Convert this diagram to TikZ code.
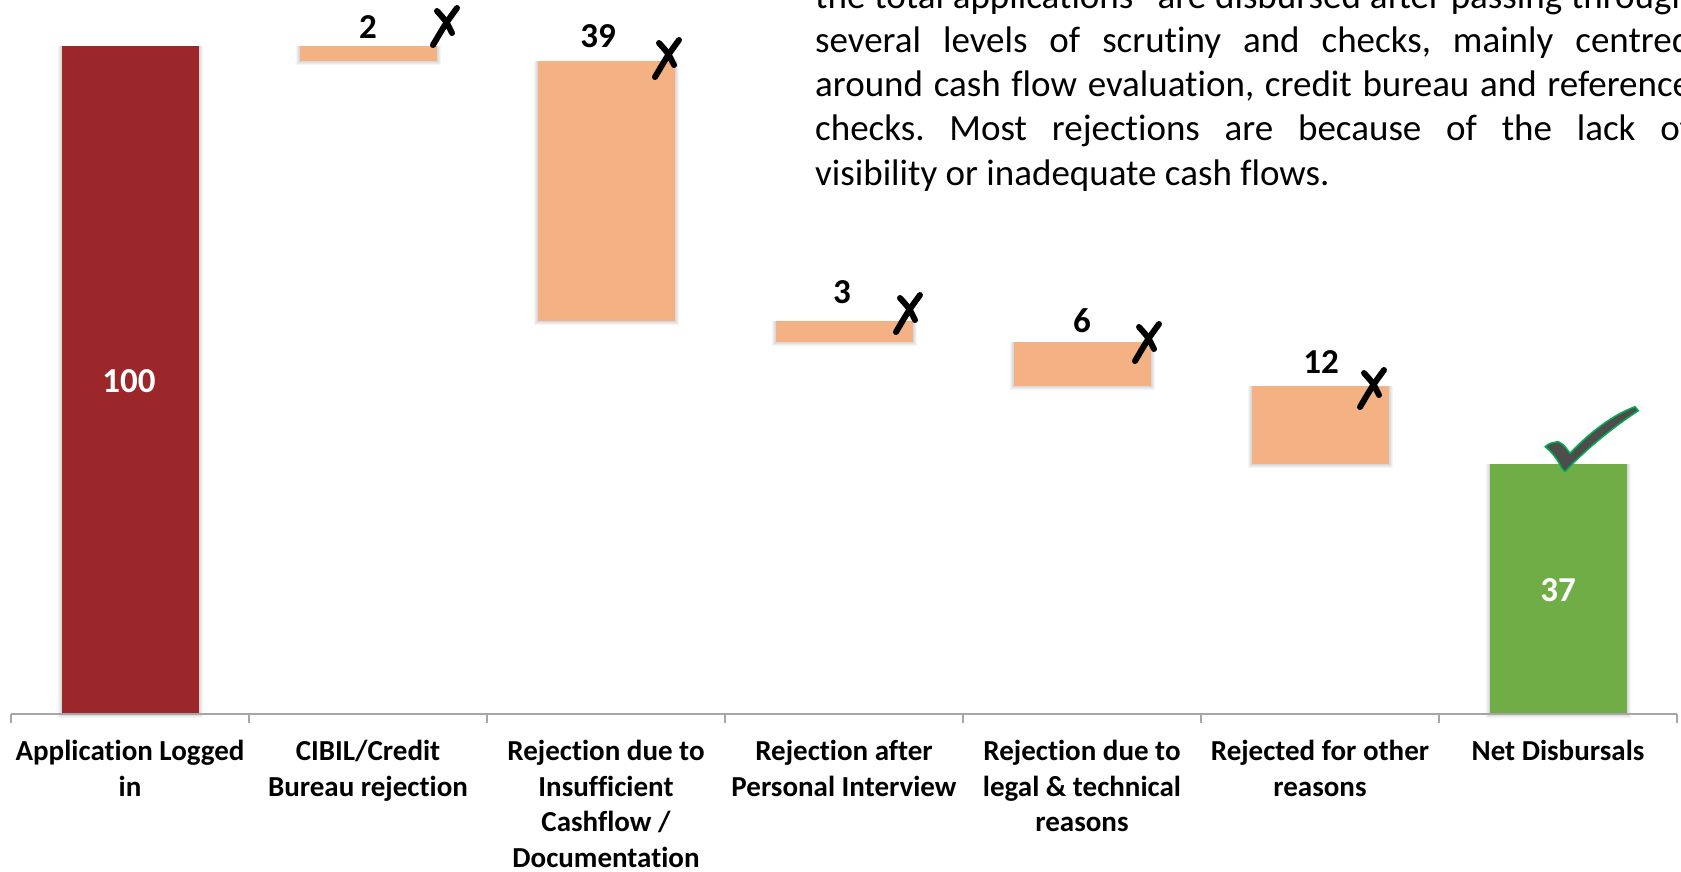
\documentclass[tikz,border=0pt]{standalone}
\usepackage{fontspec}
\setmainfont{Carlito}[RawFeature=-liga]
\definecolor{barred}{HTML}{9B272B}
\definecolor{barorange}{HTML}{F4B183}
\definecolor{bargreen}{HTML}{70AD47}
\definecolor{axisgray}{HTML}{A6A6A6}
\definecolor{checkgray}{HTML}{4D4D4D}
\definecolor{checkgreen}{HTML}{00B050}
\frenchspacing
\tikzset{
  xstroke/.style={line width=6pt, line cap=round, draw=black},
  xcross/.pic={
    \draw[xstroke] (12,-18) .. controls (1,-3) .. (-12,19);
    \draw[xstroke] (-8,-15) .. controls (1,-5) .. (7,7);
  },
  catlabel/.style={font=\fontsize{29}{35.5}\selectfont\bfseries, align=center, anchor=north, inner sep=0pt},
  vallabel/.style={font=\fontsize{35}{40}\selectfont\bfseries, inner sep=0pt},
  paraline/.style={font=\fontsize{37}{44}\selectfont, anchor=base west, inner sep=0pt},
}
\newcommand\softshadow[4]{%
  \foreach \d in {1,2,3,4}{\fill[black,opacity=0.04] (#1-\d,#2) rectangle (#3+\d,#4+\d);}%
}
\begin{document}
\begin{tikzpicture}[x=1pt,y=-1pt]
\clip (0,0) rectangle (1681,872);
\fill[white] (0,0) rectangle (1681,872);

% shadows
\softshadow{61.5}{46}{198.5}{714}
\softshadow{299.5}{46}{436.5}{61}
\softshadow{537.5}{61}{674.5}{321}
\softshadow{775.5}{321}{912.5}{342}
\softshadow{1013.5}{342}{1150.5}{386}
\softshadow{1251.5}{386}{1388.5}{464}
\softshadow{1489.5}{464}{1626.5}{714}

% bars
\fill[barred] (61.5,46) rectangle (198.5,714);
\fill[barorange] (299.5,46) rectangle (436.5,61);
\fill[barorange] (537.5,61) rectangle (674.5,321);
\fill[barorange] (775.5,321) rectangle (912.5,342);
\fill[barorange] (1013.5,342) rectangle (1150.5,386);
\fill[barorange] (1251.5,386) rectangle (1388.5,464);
\fill[bargreen] (1489.5,464) rectangle (1626.5,714);

% axis
\draw[axisgray, line width=1.2pt] (11,714) -- (1677,714);
\foreach \t in {11,249,487,725,963,1201,1439,1677}{\draw[axisgray, line width=1.2pt] (\t,714) -- (\t,723);}

% values
\node[vallabel, text=white] (v1) at (129,381) {100};
\node[vallabel] (v2) at (368,27) {2};
\node[vallabel] (v3) at (598,36) {39};
\node[vallabel] (v4) at (842,292) {3};
\node[vallabel] (v5) at (1082,321) {6};
\node[vallabel] (v6) at (1321,362) {12};
\node[vallabel, text=white] (v7) at (1558,590) {37};

% crosses
\pic at (445,26) {xcross};
\pic at (667,58) {xcross};
\pic at (908,313) {xcross};
\pic at (1147,342) {xcross};
\pic at (1372,388) {xcross};

% check mark
\filldraw[fill=checkgray, draw=checkgreen, line width=1.5pt, line join=round]
  (1545,446.7) .. controls (1550,443) .. (1558.3,441.7)
  .. controls (1564,445) .. (1570,453.3)
  .. controls (1592,430) and (1615,414) .. (1635,406.7)
  -- (1638.3,410.7)
  .. controls (1612,428) and (1585,450) .. (1565,471.7)
  -- (1561.7,468.3)
  .. controls (1558,460) and (1552,452) .. cycle;

% category labels
\node[catlabel] (c1) at (130,740) {Application Logged\\in};
\node[catlabel] (c2) at (368,740) {CIBIL/Credit\\Bureau rejection};
\node[catlabel] (c3) at (606,740) {Rejection due to\\Insufficient\\Cashflow /\\Documentation};
\node[catlabel] (c4) at (844,740) {Rejection after\\Personal Interview};
\node[catlabel] (c5) at (1082,740) {Rejection due to\\legal \& technical\\reasons};
\node[catlabel] (c6) at (1320,740) {Rejected for other\\reasons};
\node[catlabel] (c7) at (1558,740) {Net Disbursals};

% paragraph
\node[paraline] (p1) at (815,9) {\makebox[876pt][s]{the total applications” are disbursed after passing through}};
\node[paraline] (p2) at (815,53) {\makebox[876pt][s]{several levels of scrutiny and checks, mainly centred}};
\node[paraline] (p3) at (815,97) {\makebox[876pt][s]{around cash flow evaluation, credit bureau and reference}};
\node[paraline] (p4) at (815,141) {\makebox[876pt][s]{checks. Most rejections are because of the lack of}};
\node[paraline] (p5) at (815,185) {visibility or inadequate cash flows.};
\end{tikzpicture}
\end{document}
